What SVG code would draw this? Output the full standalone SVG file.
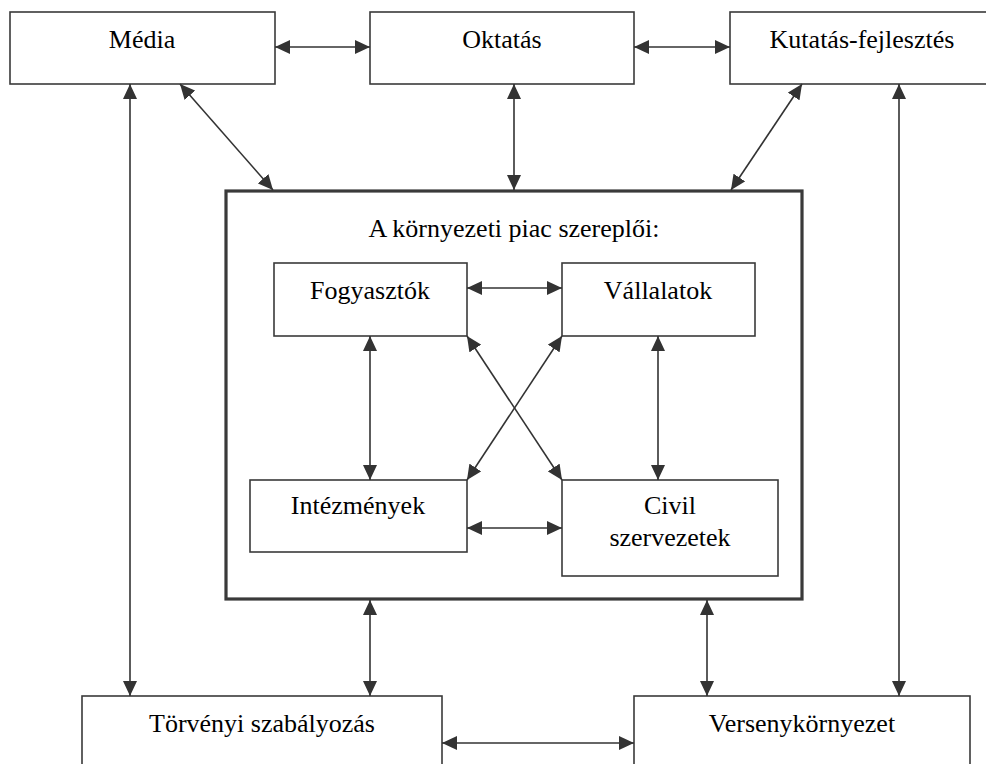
<svg xmlns="http://www.w3.org/2000/svg" width="986" height="764" viewBox="0 0 986 764">
<style>
.box{fill:#fff;stroke:#3a3a3a;stroke-width:1.6}
.outer{fill:#fff;stroke:#3a3a3a;stroke-width:3.2}
.t{font-family:"Liberation Serif","Times New Roman",serif;font-size:26px;fill:#000;text-anchor:middle}
.c{stroke:#333;stroke-width:1.6;fill:none;marker-start:url(#ah);marker-end:url(#ah)}
</style>
<defs>
<marker id="ah" markerUnits="userSpaceOnUse" markerWidth="16" markerHeight="14" refX="15" refY="7" orient="auto-start-reverse" viewBox="0 0 16 14">
<path d="M0,0 L15,7 L0,14 z" fill="#333"/>
</marker>
</defs>
<g id="media"><rect class="box" x="10" y="12" width="265" height="72"/><text class="t" x="142" y="48">Média</text></g>
<g id="oktatas"><rect class="box" x="370" y="12" width="264" height="72"/><text class="t" x="502" y="48">Oktatás</text></g>
<g id="kutatas"><rect class="box" x="730" y="12" width="264" height="72"/><text class="t" x="862" y="48">Kutatás-fejlesztés</text></g>
<g id="piac"><rect class="outer" x="226" y="191" width="576" height="408"/><text class="t" x="514" y="237">A környezeti piac szereplői:</text></g>
<g id="fogyasztok"><rect class="box" x="274" y="263" width="193" height="73"/><text class="t" x="370" y="299">Fogyasztók</text></g>
<g id="vallalatok"><rect class="box" x="562" y="263" width="193" height="73"/><text class="t" x="658" y="299">Vállalatok</text></g>
<g id="intezmenyek"><rect class="box" x="250" y="480" width="217" height="72"/><text class="t" x="358" y="514">Intézmények</text></g>
<g id="civil"><rect class="box" x="562" y="480" width="216" height="96"/><text class="t" x="670" y="514">Civil</text><text class="t" x="670" y="546">szervezetek</text></g>
<g id="torvenyi"><rect class="box" x="82" y="696" width="360" height="80"/><text class="t" x="262" y="732">Törvényi szabályozás</text></g>
<g id="verseny"><rect class="box" x="634" y="696" width="336" height="80"/><text class="t" x="802" y="732">Versenykörnyezet</text></g>
<g id="connectors">
<line class="c" x1="275" y1="47" x2="370" y2="47"/>
<line class="c" x1="634" y1="47" x2="730" y2="47"/>
<line class="c" x1="130" y1="84" x2="130" y2="696"/>
<line class="c" x1="180" y1="84" x2="273" y2="190"/>
<line class="c" x1="514" y1="84" x2="514" y2="190"/>
<line class="c" x1="802" y1="84" x2="731" y2="190"/>
<line class="c" x1="899" y1="84" x2="899" y2="696"/>
<line class="c" x1="467" y1="288" x2="562" y2="288"/>
<line class="c" x1="467" y1="528" x2="562" y2="528"/>
<line class="c" x1="370" y1="336" x2="370" y2="480"/>
<line class="c" x1="658" y1="336" x2="658" y2="480"/>
<line class="c" x1="467" y1="336" x2="562" y2="480"/>
<line class="c" x1="562" y1="336" x2="467" y2="480"/>
<line class="c" x1="370" y1="600" x2="370" y2="696"/>
<line class="c" x1="707" y1="600" x2="707" y2="696"/>
<line class="c" x1="442" y1="743" x2="634" y2="743"/>
</g>
</svg>
